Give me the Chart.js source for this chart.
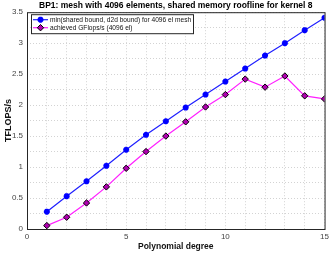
<!DOCTYPE html>
<html lang="en">
<head>
<meta charset="UTF-8" />
<title>BP1 roofline</title>
<script src="https://cdn.jsdelivr.net/npm/chart.js"></script>
<style>
  html, body { margin: 0; padding: 0; background: #fff; }
  #wrap { width: 332px; height: 257px; position: relative; }
</style>
</head>
<body>
<div id="wrap"><canvas id="roofChart"></canvas></div>
<script>
// polynomial degree
const degrees = [1, 2, 3, 4, 5, 6, 7, 8, 9, 10, 11, 12, 13, 14, 15];
// min(shared bound, d2d bound), TFLOPS/s
const roofline = [0.28, 0.53, 0.77, 1.02, 1.28, 1.52, 1.74, 1.96, 2.17, 2.38, 2.59, 2.80, 3.00, 3.21, 3.41];
// achieved, TFLOPS/s
const achieved = [0.055, 0.19, 0.42, 0.68, 0.98, 1.25, 1.50, 1.73, 1.97, 2.17, 2.42, 2.29, 2.47, 2.15, 2.10];
const xLabels = [0, 5, 10, 15];
const yLabels = [0, 0.5, 1, 1.5, 2, 2.5, 3, 3.5];

const legendNames = ['min(shared bound, d2d bound) for 4096 el mesh', 'achieved GFlops/s (4096 el)'];
const FONT = 'Liberation Sans, Arial, sans-serif';

// box round the axes + legend inside the plot
const boxAndLegend = {
    id: 'boxAndLegend',
    afterDraw(chart) {
        const { ctx, chartArea: a } = chart;
        ctx.save();
        ctx.strokeStyle = '#262626';
        ctx.lineWidth = 1;
        ctx.strokeRect(a.left + 0.5, a.top + 0.5, a.right - a.left, a.bottom - a.top);

        // legend
        const lx = a.left + 4, ly = a.top + 2, lw = 162, lh = 19;
        ctx.fillStyle = '#fff';
        ctx.fillRect(lx, ly, lw, lh);
        ctx.strokeStyle = '#262626';
        ctx.strokeRect(lx + 0.5, ly + 0.5, lw, lh);
        ctx.font = '6.6px ' + FONT;
        ctx.textBaseline = 'middle';
        chart.data.datasets.forEach((ds, i) => {
            const y = ly + 5.5 + i * 8;
            ctx.strokeStyle = ds.borderColor;
            ctx.lineWidth = 1.2;
            ctx.beginPath();
            ctx.moveTo(lx + 2, y);
            ctx.lineTo(lx + 17, y);
            ctx.stroke();
            ctx.fillStyle = ds.pointBackgroundColor;
            ctx.strokeStyle = ds.pointBorderColor;
            ctx.lineWidth = ds.pointBorderWidth;
            Chart.helpers.drawPoint(ctx, {
                pointStyle: ds.pointStyle,
                radius: ds.pointRadius,
                borderWidth: ds.pointBorderWidth,
                rotation: 0
            }, lx + 9.5, y);
            ctx.fillStyle = '#111';
            ctx.fillText(legendNames[i], lx + 19, y + 0.5);
        });
        ctx.restore();
    }
};

new Chart(document.getElementById('roofChart'), {
    type: 'line',
    data: {
        labels: degrees,
        datasets: [{
            label: legendNames[0],
            data: degrees.map((d, i) => ({ x: d, y: roofline[i] })),
            borderColor: '#2020ff',
            borderWidth: 1.2,
            pointStyle: 'star',
            pointRadius: 3,
            pointBorderWidth: 2,
            pointBackgroundColor: '#0000ff',
            pointBorderColor: '#0000ff',
            tension: 0
        }, {
            label: legendNames[1],
            data: degrees.map((d, i) => ({ x: d, y: achieved[i] })),
            borderColor: '#ff20ff',
            borderWidth: 1.2,
            pointStyle: 'rectRot',
            pointRadius: 3.2,
            pointBorderWidth: 1,
            pointBackgroundColor: '#b000b0',
            pointBorderColor: '#000',
            tension: 0
        }]
    },
    options: {
        responsive: true,
        maintainAspectRatio: false,
        animation: false,
        layout: { padding: { left: 0, right: 6, top: 0, bottom: 0 } },
        plugins: {
            legend: { display: false },
            tooltip: { enabled: false },
            title: {
                display: true,
                fullSize: false,
                text: 'BP1: mesh with 4096 elements, shared memory roofline for kernel 8',
                color: '#000',
                font: { family: FONT, size: 8.5, weight: 'bold' },
                padding: { top: 1, bottom: 1 }
            }
        },
        scales: {
            x: {
                type: 'linear',
                min: 0,
                max: 15,
                afterFit: (s) => { s.height = 28; },
                ticks: {
                    stepSize: 1,
                    autoSkip: false,
                    maxRotation: 0,
                    padding: 3,
                    color: '#444',
                    font: { family: FONT, size: 8 },
                    callback: (v) => xLabels.includes(v) ? String(v) : ''
                },
                grid: { color: '#c8c8c8', drawTicks: false, lineWidth: 0.8 },
                border: { dash: [1, 2], display: false },
                title: {
                    display: true,
                    text: 'Polynomial degree',
                    color: '#111',
                    font: { family: FONT, size: 8.5, weight: 'bold' },
                    padding: { top: 0, bottom: 5 }
                }
            },
            y: {
                min: 0,
                max: 3.5,
                afterFit: (s) => { s.width = 27; },
                ticks: {
                    stepSize: 0.25,
                    autoSkip: false,
                    padding: 4,
                    color: '#444',
                    font: { family: FONT, size: 8 },
                    callback: (v) => yLabels.includes(v) ? String(v) : ''
                },
                grid: { color: '#c8c8c8', drawTicks: false, lineWidth: 0.8 },
                border: { dash: [1, 2], display: false },
                title: {
                    display: true,
                    text: 'TFLOPS/s',
                    color: '#111',
                    font: { family: FONT, size: 9, weight: 'bold' },
                    padding: { top: 3, bottom: 0 }
                }
            }
        }
    },
    plugins: [boxAndLegend]
});
</script>
</body>
</html>
